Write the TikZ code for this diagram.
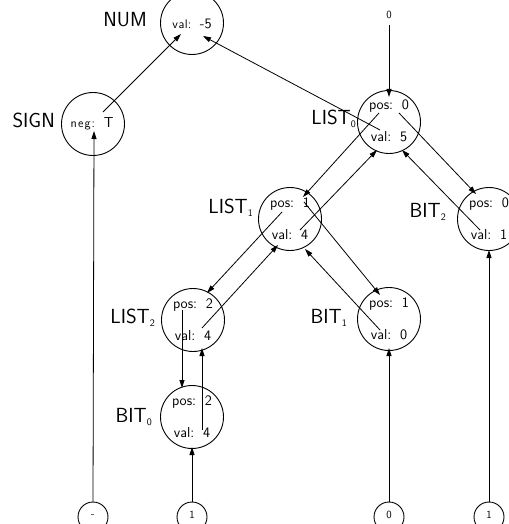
\documentclass[tikz,border=0pt]{standalone}
\usetikzlibrary{arrows.meta,calc}
\newcommand{\labfont}{\sffamily\fontsize{20.5}{22}\selectfont}
\newcommand{\attrfont}{\sffamily\fontsize{14.5}{15}\selectfont}
\newcommand{\smallattr}{\sffamily\fontsize{12.5}{13}\selectfont}
\newcommand{\leaffont}{\sffamily\fontsize{11}{12}\selectfont}
\newcommand{\sub}[1]{\raisebox{-3bp}{\sffamily\fontsize{10}{10}\selectfont #1}}
\newcommand{\gap}{\hspace{0.6em}}
\tikzset{
  attr/.style={circle, draw, line width=0.9bp, minimum size=63bp, inner sep=0pt},
  leaf/.style={circle, draw, line width=0.9bp, minimum size=30bp, inner sep=0pt},
  lab/.style={anchor=base east, inner sep=0pt, font=\labfont},
  txt/.style={anchor=base, inner sep=0pt, font=\attrfont},
  ltxt/.style={anchor=base, inner sep=0pt, font=\leaffont},
  dep/.style={-{Triangle[length=8bp,width=5bp]}, line width=0.8bp}
}
\begin{document}
\begin{tikzpicture}[x=1bp,y=-1bp]
\useasboundingbox (0,0) rectangle (509,524);
\clip (0,0) rectangle (509,524);
% attribute nodes
\node[attr] (NUM) at (192,23) {};
\node[attr] (SIGN) at (93,124) {};
\node[attr] (L0) at (389,122) {};
\node[attr] (L1) at (290,219) {};
\node[attr] (B2) at (489,219) {};
\node[attr] (L2) at (193,320) {};
\node[attr] (B1) at (389,319) {};
\node[attr] (B0) at (192,417) {};
% leaves
\node[leaf] (lm) at (93,517) {};
\node[leaf] (la) at (192,517) {};
\node[leaf] (lz) at (389,517) {};
\node[leaf] (lb) at (489,517) {};
\node[ltxt] (lmt) at (93,517) {-};
\node[ltxt] (lat) at (192,518) {1};
\node[ltxt] (lzt) at (389,518) {0};
\node[ltxt] (lbt) at (489,518) {1};
\node[ltxt] (top0) at (389,19) {0};
\coordinate (top0s) at (389,25);
% labels
\node[lab] (NUMl) at (152,27) {NUM\phantom{\sub{0}}};
\node[lab] (SIGNl) at (55,128) {SIGN};
\node[lab] (L0l) at (356,125) {LIST\sub{0}};
\node[lab] (L1l) at (253,213) {LIST\sub{1}};
\node[lab] (B2l) at (446,217) {BIT\sub{2}};
\node[lab] (L2l) at (155,323) {LIST\sub{2}};
\node[lab] (B1l) at (347,323) {BIT\sub{1}};
\node[lab] (B0l) at (152,422) {BIT\sub{0}};
% attribute texts
\node[txt] (NUMv) at (192,29) {{\smallattr v\kern0.6bp a\kern0.6bp l:}\gap -5};
\node[txt] (SIGNv) at (92,128) {{\smallattr n\kern1.2bp e\kern1.2bp g\kern1bp :}\gap T};
\node[txt] (L0p) at (389,110) {pos:\gap 0};
\node[txt] (L0v) at (389,142) {val:\gap 5};
\node[txt] (L1p) at (290,208) {pos:\gap 1};
\node[txt] (L1v) at (290,239) {val:\gap 4};
\node[txt] (B2p) at (489,208) {pos:\gap 0};
\node[txt] (B2v) at (489,239) {val:\gap 1};
\node[txt] (L2p) at (193,308) {pos:\gap 2};
\node[txt] (L2v) at (193,340) {val:\gap 4};
\node[txt] (B1p) at (389,307) {pos:\gap 1};
\node[txt] (B1v) at (389,339) {val:\gap 0};
\node[txt] (B0p) at (192,405) {pos:\gap 2};
\node[txt] (B0v) at (192,437) {val:\gap 4};
% dependency edges
\draw[dep] ($(SIGN)+(10,-12)$) -- ($(NUM)+(-11,11)$);
\draw[dep] ($(L0)+(-9,8)$) -- ($(NUM)+(11,13)$);
\draw[dep] (top0s) -- ($(L0)+(0,-25)$);
\draw[dep] ($(L0)+(-10,-9)$) -- ($(L1)+(13,-22)$);
\draw[dep] ($(L1)+(10,11)$) -- ($(L0)+(-12,28)$);
\draw[dep] ($(L0)+(10,-9)$) -- ($(B2)+(-13,-25)$);
\draw[dep] ($(B2)+(-9,11)$) -- ($(L0)+(13,28)$);
\draw[dep] (lb.north) -- ($(B2)+(0,31)$);
\draw[dep] ($(L1)+(-8,-7)$) -- ($(L2)+(14,-27)$);
\draw[dep] ($(L2)+(9,8)$) -- ($(L1)+(-12,26)$);
\draw[dep] ($(L1)+(14,-17)$) -- ($(B1)+(-9,-24)$);
\draw[dep] ($(B1)+(-9,11)$) -- ($(L1)+(15,30)$);
\draw[dep] (lz.north) -- ($(B1)+(0,29)$);
\draw[dep] ($(L2)+(-11,-10)$) -- ($(B0)+(-10,-29)$);
\draw[dep] ($(B0)+(10,13)$) -- ($(L2)+(9,28)$);
\draw[dep] (la.north) -- ($(B0)+(0,30)$);
\draw[dep] (lm.north) -- ($(SIGN)+(1,7)$);
\end{tikzpicture}
\end{document}
